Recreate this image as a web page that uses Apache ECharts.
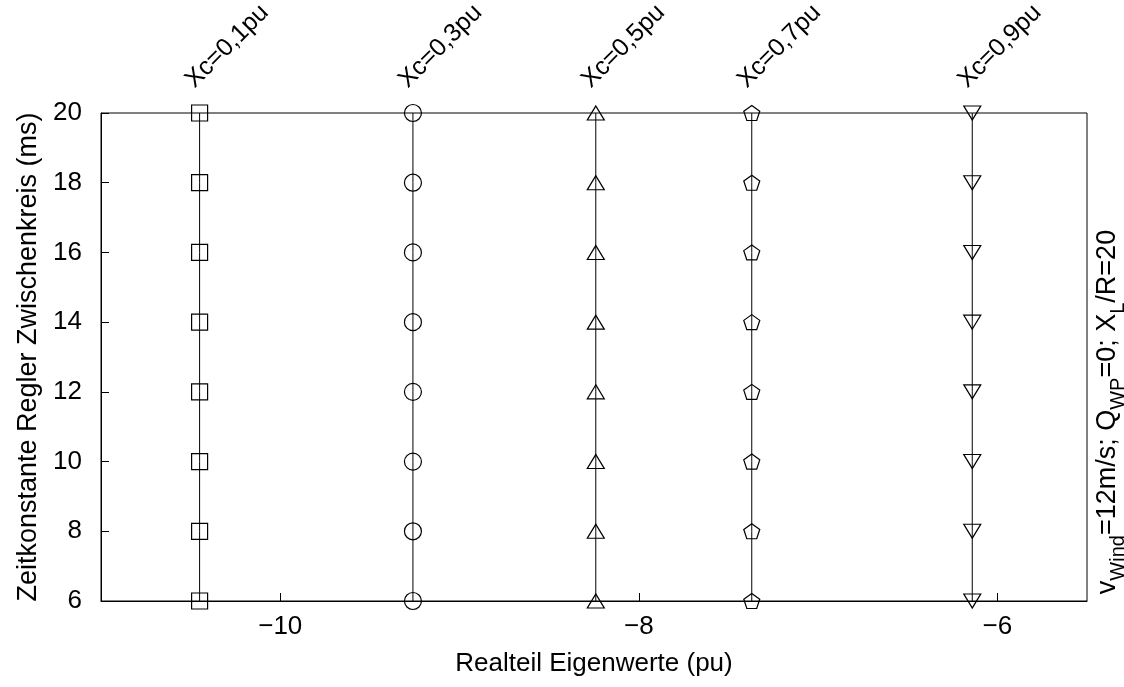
<!DOCTYPE html>
<html>
<head>
<meta charset="utf-8">
<script src="https://cdn.jsdelivr.net/npm/echarts@6/dist/echarts.min.js"></script>
<style>
html,body{margin:0;padding:0;background:#fff;}
#chart{width:1124px;height:687px;}
</style>
</head>
<body>
<div id="chart"></div>
<script>
// Data
const timeConstants = [6, 8, 10, 12, 14, 16, 18, 20];           // y values (ms)
const realXc01 = [-10.45, -10.45, -10.45, -10.45, -10.45, -10.45, -10.45, -10.45];
const realXc03 = [-9.26, -9.26, -9.26, -9.26, -9.26, -9.26, -9.26, -9.26];
const realXc05 = [-8.24, -8.24, -8.24, -8.24, -8.24, -8.24, -8.24, -8.24];
const realXc07 = [-7.37, -7.37, -7.37, -7.37, -7.37, -7.37, -7.37, -7.37];
const realXc09 = [-6.14, -6.14, -6.14, -6.14, -6.14, -6.14, -6.14, -6.14];
const seriesLabels = ['Xc=0,1pu', 'Xc=0,3pu', 'Xc=0,5pu', 'Xc=0,7pu', 'Xc=0,9pu'];
const yTicks = [6, 8, 10, 12, 14, 16, 18, 20];
const xAxisTitle = 'Realteil Eigenwerte (pu)';
const yAxisTitle = 'Zeitkonstante Regler Zwischenkreis (ms)';

const FONT = 'Liberation Sans, Arial, Helvetica, sans-serif';
const pentagon = 'path://M0,-1L0.951,-0.309L0.588,0.809L-0.588,0.809L-0.951,-0.309Z';
const allX = [realXc01, realXc03, realXc05, realXc07, realXc09];
const symbols = [
  {symbol: 'rect', size: 16, rotate: 0},
  {symbol: 'circle', size: 17, rotate: 0},
  {symbol: 'triangle', size: [17, 14], rotate: 0},
  {symbol: pentagon, size: [16, 15], rotate: 0},
  {symbol: 'triangle', size: [17, 14], rotate: 180}
];

const chart = echarts.init(document.getElementById('chart'), null, {renderer: 'canvas'});

const series = allX.map((xs, i) => ({
  name: seriesLabels[i],
  type: 'line',
  data: xs.map((x, j) => [x, timeConstants[j]]),
  symbol: symbols[i].symbol,
  symbolSize: symbols[i].size,
  symbolRotate: symbols[i].rotate,
  showAllSymbol: true,
  lineStyle: {color: '#000', width: 1},
  itemStyle: {color: 'rgba(0,0,0,0)', borderColor: '#000', borderWidth: 1.2},
  emphasis: {disabled: true},
  animation: false,
  z: 3
}));

const option = {
  animation: false,
  backgroundColor: '#fff',
  textStyle: {fontFamily: FONT},
  grid: {left: 101, right: 37, top: 113, bottom: 86, show: true, borderColor: '#000', borderWidth: 1, containLabel: false},
  xAxis: {
    type: 'value', min: -11, max: -5.5, splitNumber: 3,
    name: xAxisTitle, nameLocation: 'middle', nameGap: 50,
    nameTextStyle: {fontSize: 26, color: '#000', fontFamily: FONT},
    axisLine: {show: true, onZero: false, lineStyle: {color: '#000', width: 1}},
    axisTick: {show: true, inside: true, length: 8, lineStyle: {color: '#000'}},
    axisLabel: {color: '#000', fontSize: 26, fontFamily: FONT, margin: 13, showMinLabel: false, showMaxLabel: false,
      formatter: v => String(v).replace('-', '\u2212')},
    splitLine: {show: false}
  },
  yAxis: {
    type: 'value', min: yTicks[0], max: yTicks[yTicks.length - 1], interval: 2,
    name: yAxisTitle, nameLocation: 'middle', nameGap: 59,
    nameTextStyle: {fontSize: 27, color: '#000', fontFamily: FONT},
    axisLine: {show: true, onZero: false, lineStyle: {color: '#000', width: 1}},
    axisTick: {show: true, inside: true, length: 8, lineStyle: {color: '#000'}},
    axisLabel: {color: '#000', fontSize: 26, fontFamily: FONT, margin: 19},
    splitLine: {show: false}
  },
  series: series
};
chart.setOption(option);

// Rotated labels above each column and the right-hand annotation
const graphics = [];
allX.forEach((xs, i) => {
  const topIdx = timeConstants.length - 1;
  const p = chart.convertToPixel({gridIndex: 0}, [xs[topIdx], timeConstants[topIdx]]);
  graphics.push({
    type: 'text', x: p[0] - 10, y: p[1] - 29, rotation: Math.PI / 4,
    style: {text: seriesLabels[i], font: '25px ' + FONT, fill: '#000', align: 'left', verticalAlign: 'middle'},
    silent: true, z: 10
  });
});
graphics.push({
  type: 'text', x: 1108, y: 412, rotation: Math.PI / 2,
  style: {
    text: '{m|v}{s|Wind}{m|=12m/s; Q}{s|WP}{m|=0; X}{s|L}{m|/R=20}',
    align: 'center', verticalAlign: 'middle', fill: '#000',
    rich: {
      m: {fontSize: 27, fontFamily: FONT, lineHeight: 28, verticalAlign: 'top', fill: '#000'},
      s: {fontSize: 20, fontFamily: FONT, lineHeight: 20, padding: [14, 0, 0, 0], verticalAlign: 'top', fill: '#000'}
    }
  },
  silent: true, z: 10
});
chart.setOption({graphic: graphics});
</script>
</body>
</html>
